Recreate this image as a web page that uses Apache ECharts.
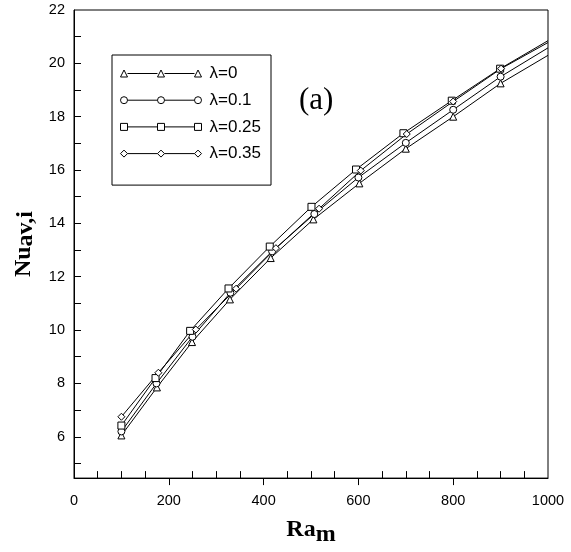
<!DOCTYPE html>
<html>
<head>
<meta charset="utf-8">
<script src="https://cdn.jsdelivr.net/npm/echarts@6/dist/echarts.min.js"></script>
<style>html,body{margin:0;padding:0;background:#fff}#c{width:571px;height:552px}</style>
</head>
<body>
<div id="c"></div>
<script>
// ---- data ----
const seriesNames = ['λ=0', 'λ=0.1', 'λ=0.25', 'λ=0.35'];
const ra_l0   = [100, 175, 249, 329, 415, 505, 602, 700, 800, 900];
const nu_l0   = [6.05, 7.85, 9.55, 11.15, 12.7, 14.15, 15.5, 16.8, 18.0, 19.25];
const ra_l01  = [100, 174, 250, 330, 418, 507, 600, 700, 800, 900];
const nu_l01  = [6.2, 8.0, 9.75, 11.4, 12.95, 14.35, 15.72, 17.02, 18.26, 19.5];
const ra_l025 = [100, 172, 245, 326, 413, 501, 595, 695, 797, 899];
const nu_l025 = [6.42, 8.2, 9.97, 11.56, 13.13, 14.62, 16.02, 17.38, 18.6, 19.8];
const ra_l035 = [100, 178, 257, 342, 426, 517, 605, 702, 800, 901];
const nu_l035 = [6.75, 8.4, 10.02, 11.55, 13.07, 14.55, 15.98, 17.35, 18.57, 19.8];
// curve end values at Ra = 1000 (line continues to frame, no marker)
const curveEndRa = 1000;
const curveEndNu = [20.3, 20.58, 20.85, 20.78];
const xTickLabels = [0, 200, 400, 600, 800, 1000];
const yTickLabels = [6, 8, 10, 12, 14, 16, 18, 20, 22];

// ---- build ----
const raSets = [ra_l0, ra_l01, ra_l025, ra_l035];
const nuSets = [nu_l0, nu_l01, nu_l025, nu_l035];
const symbols = ['triangle', 'circle', 'rect', 'diamond'];

function legendPath(kind) {
  const cs = [3.5, 40.5, 77.5];
  let p = '';
  cs.forEach(c => {
    if (kind === 'triangle') p += `M${c-3.5},7L${c},0L${c+3.5},7Z`;
    else if (kind === 'circle') p += `M${c-3.5},3.5A3.5,3.5 0 1,0 ${c+3.5},3.5A3.5,3.5 0 1,0 ${c-3.5},3.5Z`;
    else if (kind === 'rect') p += `M${c-3.5},0L${c+3.5},0L${c+3.5},7L${c-3.5},7Z`;
    else p += `M${c},0L${c+3.5},3.5L${c},7L${c-3.5},3.5Z`;
  });
  p += 'M7,3.5L37,3.5M44,3.5L74,3.5';
  return 'path://' + p;
}

const series = seriesNames.map((name, k) => {
  const data = raSets[k].map((x, i) => [x, nuSets[k][i]]);
  data.push({ value: [curveEndRa, curveEndNu[k]], symbol: 'none' });
  return {
    name: name,
    type: 'line',
    data: data,
    symbol: symbols[k],
    symbolSize: 7,
    smooth: false,
    lineStyle: { color: '#000', width: 1 },
    itemStyle: { color: '#fff', borderColor: '#000', borderWidth: 1 },
    emphasis: { disabled: true },
    clip: true
  };
});

const minorX = [];
for (let v = 50; v < 1000; v += 50) if (v % 200 !== 0) minorX.push(v);
const yTicks = [];
for (let v = 5; v <= 21; v++) yTicks.push(v);

const labelFont = 'Liberation Sans, Arial, sans-serif';
const serif = 'Liberation Serif, Times New Roman, serif';

const chart = echarts.init(document.getElementById('c'), null, { renderer: 'canvas' });
chart.setOption({
  animation: false,
  backgroundColor: '#fff',
  title: {
    text: '(a)', left: 294, top: 80,
    textStyle: { fontFamily: serif, fontSize: 31, fontWeight: 'normal', color: '#000' }
  },
  legend: {
    orient: 'vertical', left: 112, top: 55,
    padding: [10, 10, 23, 8],
    itemWidth: 81, itemHeight: 7, itemGap: 9.7,
    borderColor: '#000', borderWidth: 1,
    selectedMode: false,
    textStyle: { fontFamily: labelFont, fontSize: 17, color: '#000', lineHeight: 17, padding: [0, 0, 0, 3] },
    data: seriesNames.map((n, k) => ({
      name: n, icon: legendPath(symbols[k]),
      itemStyle: { color: '#fff', borderColor: '#000', borderWidth: 1 }
    }))
  },
  grid: { left: 74, right: 23, top: 10, bottom: 70, show: true, borderColor: '#000', borderWidth: 1, backgroundColor: 'transparent' },
  xAxis: [{
    type: 'value', min: 0, max: 1000, interval: 200,
    name: '{a|Ra}{b|m}', nameLocation: 'middle', nameGap: 30,
    nameTextStyle: {
      rich: {
        a: { fontFamily: serif, fontSize: 24, fontWeight: 'bold', color: '#000', lineHeight: 24 },
        b: { fontFamily: serif, fontSize: 24, fontWeight: 'bold', color: '#000', lineHeight: 24, padding: [10, 0, 0, 0] }
      }
    },
    axisLine: { show: true, lineStyle: { color: '#000', width: 1 } },
    axisTick: { show: true, inside: false, length: 7, lineStyle: { color: '#000' }, customValues: [200, 400, 600, 800] },
    axisLabel: { fontFamily: labelFont, fontSize: 14.5, color: '#000', margin: 15, customValues: xTickLabels, formatter: v => String(v) },
    splitLine: { show: false }
  }, {
    type: 'value', min: 0, max: 1000, position: 'bottom',
    axisLine: { show: false },
    axisTick: { show: true, inside: true, length: 7, lineStyle: { color: '#000' }, customValues: minorX },
    axisLabel: { show: false },
    splitLine: { show: false }
  }],
  yAxis: {
    type: 'value', min: 4.45, max: 22,
    name: '{a|Nu}{b|av,i}', nameLocation: 'middle', nameGap: 38, nameRotate: 90,
    nameTextStyle: {
      rich: {
        a: { fontFamily: serif, fontSize: 24, fontWeight: 'bold', color: '#000', lineHeight: 24 },
        b: { fontFamily: serif, fontSize: 24, fontWeight: 'bold', color: '#000', lineHeight: 24, padding: [4, 0, 0, 0] }
      }
    },
    axisLine: { show: true, lineStyle: { color: '#000', width: 1 } },
    axisTick: { show: true, inside: true, length: 7, lineStyle: { color: '#000' }, customValues: yTicks },
    axisLabel: { fontFamily: labelFont, fontSize: 14.5, color: '#000', margin: 9, customValues: yTickLabels, formatter: v => String(v) },
    splitLine: { show: false }
  },
  series: series
});
</script>
</body>
</html>
